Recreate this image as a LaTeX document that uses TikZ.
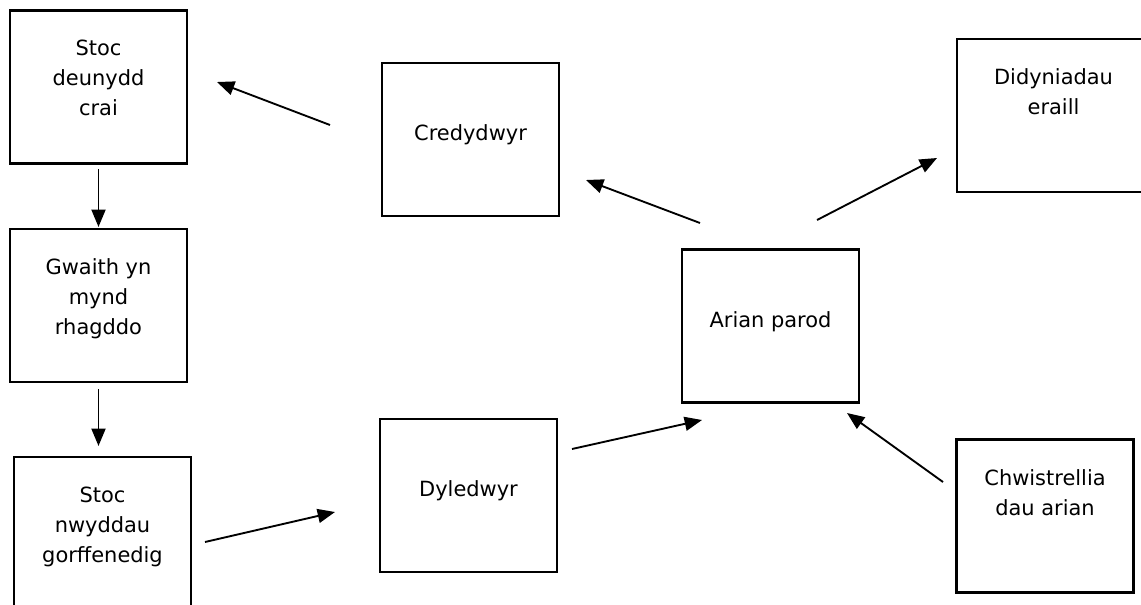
\documentclass[tikz,border=0pt]{standalone}
\usepackage{fontspec}
\setmainfont{DejaVu Sans}
\usetikzlibrary{arrows.meta}

\begin{document}
\begin{tikzpicture}[x=0.75pt,y=-0.75pt,
    box/.style={draw,line width=1.6pt,minimum width=132.75pt,minimum height=114.75pt,inner sep=0pt},
    boxtext/.style={anchor=north,inner sep=0pt,align=center,font=\fontsize{15.7pt}{22.5pt}\selectfont,yshift=-23pt},
    oneline/.style={yshift=-24pt},
    flow/.style={-{Triangle[length=13pt,width=10.5pt]},line width=1.4pt}]
\useasboundingbox (0,0) rectangle (1141,604);

% boxes
\node[box,label={[boxtext]north:Stoc\\deunydd\\crai}] (rawstock) at (98.5,87) {};
\node[box,label={[boxtext]north:Gwaith yn\\mynd\\rhagddo}] (wip) at (98.5,305.5) {};
\node[box,label={[boxtext]north:Stoc\\nwyddau\\gorffenedig}] (finstock) at (102.5,533.5) {};
\node[box,label={[boxtext,oneline]north:Credydwyr}] (creditors) at (470.5,139.5) {};
\node[box,label={[boxtext,oneline]north:Dyledwyr}] (debtors) at (468.5,495.5) {};
\node[box,label={[boxtext,oneline]north:Arian parod}] (cash) at (770.5,326) {};
\node[box,minimum width=144.75pt,label={[boxtext]north:Didyniadau\\eraill}] (deduct) at (1053.5,115.5) {};
\node[box,label={[boxtext]north:Chwistrellia\\dau arian}] (inject) at (1045,516) {};

% free arrow ends
\coordinate (cred-out) at (330,125);
\coordinate (raw-in) at (217,82);
\coordinate (fin-out) at (205,542);
\coordinate (debt-in) at (335,512);
\coordinate (debt-out) at (572,449);
\coordinate (cash-in1) at (702,420);
\coordinate (cash-out1) at (700,223);
\coordinate (cred-in) at (586,180);
\coordinate (cash-out2) at (817,220);
\coordinate (ded-in) at (937,158);
\coordinate (inj-out) at (943,482);
\coordinate (cash-in2) at (847,413);

% arrows
\draw[flow,shorten <=3.4pt,shorten >=0.75pt] (rawstock.south) -- (wip.north);
\draw[flow,shorten <=4.5pt,shorten >=7.5pt] (wip.south) -- (wip.south |- finstock.north);
\draw[flow] (cred-out) -- (raw-in);
\draw[flow] (fin-out) -- (debt-in);
\draw[flow] (debt-out) -- (cash-in1);
\draw[flow] (cash-out1) -- (cred-in);
\draw[flow] (cash-out2) -- (ded-in);
\draw[flow] (inj-out) -- (cash-in2);

\end{tikzpicture}
\end{document}
